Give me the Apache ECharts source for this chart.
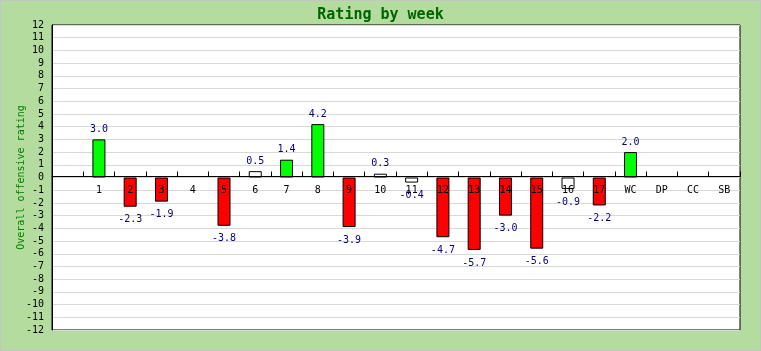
<!DOCTYPE html>
<html>
<head>
<meta charset="utf-8">
<script src="https://cdn.jsdelivr.net/npm/echarts@6/dist/echarts.min.js"></script>
<style>
  html, body { margin: 0; padding: 0; background: #b5dc9f; }
  #chart { width: 761px; height: 351px; box-sizing: border-box; border: 1px solid #c4c4c4; }
</style>
</head>
<body>
<div id="chart"></div>
<script>
// weeks (first slot left empty, the original axis starts half a week early)
var weeks = ['', '1', '2', '3', '4', '5', '6', '7', '8', '9', '10', '11', '12', '13', '14', '15', '16', '17', 'WC', 'DP', 'CC', 'SB']
var ratings = [null, 3.0, -2.3, -1.9, null, -3.8, 0.5, 1.4, 4.2, -3.9, 0.3, -0.4, -4.7, -5.7, -3.0, -5.6, -0.9, -2.2, 2.0, null, null, null]
var yTicks = { min: -12, max: 12, step: 1 }

var mono = 'DejaVu Sans Mono'
var gridH = 307

var chart = echarts.init(document.getElementById('chart'))

var barData = ratings.map(function (v) {
  if (v === null) return null
  return {
    value: v,
    label: { position: v >= 0 ? 'top' : 'bottom', distance: v >= 0 ? 5 : 8 }
  }
})

chart.setOption({
  animation: false,
  title: {
    text: 'Rating by week',
    left: 'center',
    top: 2,
    textStyle: { color: '#006400', fontFamily: mono, fontSize: 15, fontWeight: 'bold' }
  },
  grid: {
    left: 51, top: 24, right: 20, bottom: 20,
    outerBoundsMode: 'none',
    containLabel: false,
    show: true,
    backgroundColor: '#fff',
    borderColor: '#000',
    borderWidth: 1
  },
  xAxis: {
    type: 'category',
    data: weeks,
    z: 5,
    // put the axis on the zero line (labels go with it)
    offset: -(gridH / 2),
    axisLine: { onZero: false, lineStyle: { color: '#000', width: 1 } },
    axisTick: { show: true, inside: true, length: 5, interval: 0, lineStyle: { color: '#000', width: 1 } },
    axisLabel: { interval: 0, margin: 9, color: '#000', fontFamily: mono, fontSize: 10 },
    splitLine: { show: false }
  },
  yAxis: {
    type: 'value',
    min: yTicks.min,
    max: yTicks.max,
    interval: yTicks.step,
    name: 'Overall offensive rating',
    nameLocation: 'middle',
    nameGap: 26,
    nameMoveOverlap: false,
    nameTextStyle: { color: '#008000', fontFamily: mono, fontSize: 10 },
    axisLine: { show: true, lineStyle: { color: '#000' } },
    axisTick: { inside: true, length: 5, lineStyle: { color: '#000' } },
    axisLabel: { margin: 8, color: '#000', fontFamily: mono, fontSize: 10 },
    splitLine: { lineStyle: { color: '#d8d8d8' } }
  },
  series: [{
    type: 'bar',
    data: barData,
    barWidth: 13,
    itemStyle: {
      borderColor: '#000',
      borderWidth: 1,
      color: function (p) {
        var v = p.value
        if (v >= 1) return '#00ff00'
        if (v <= -1) return '#ff0000'
        return '#ffffff'
      }
    },
    label: {
      show: true,
      color: '#000080',
      fontFamily: mono,
      fontSize: 10,
      formatter: function (p) { return p.value.toFixed(1) }
    }
  }]
})
</script>
</body>
</html>
